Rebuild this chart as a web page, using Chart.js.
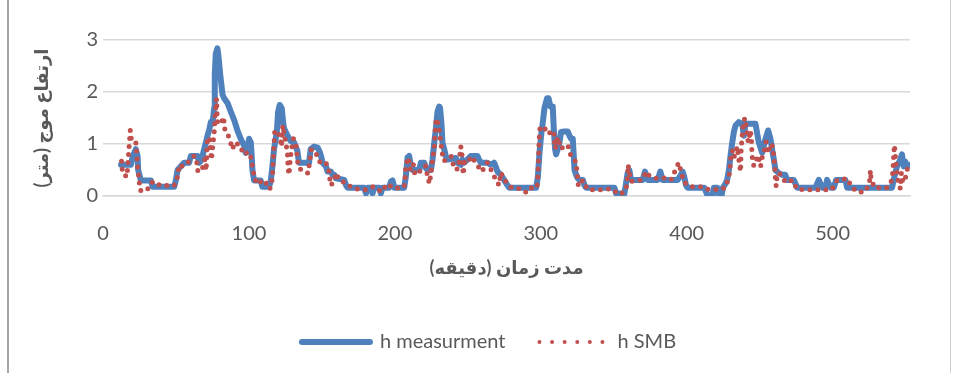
<!DOCTYPE html>
<html>
<head>
<meta charset="utf-8">
<script src="https://cdn.jsdelivr.net/npm/chart.js@4.4.1/dist/chart.umd.min.js"></script>
<style>
  html, body { margin: 0; padding: 0; background: #fff; }
  #wrap { position: relative; width: 957px; height: 373px; }
  #frame { position: absolute; left: 7px; top: -2px; width: 941px; height: 380px;
           border-left: 2px solid #a6a6a6; border-right: 1px solid #d0d0d0; }
  canvas { position: absolute; left: 0; top: 0; }
</style>
</head>
<body>
<div id="wrap">
  <div id="frame"></div>
  <canvas id="waveChart" width="957" height="373"></canvas>
</div>
<script>
// h measurment (minutes, metres)
var measX = [12.3, 19.1, 20.3, 22.5, 23.7, 24.1, 26, 32.8, 34, 48.8, 49.9, 51.1, 53.3, 55.6, 59, 60.2, 64.8, 65.9, 67, 68.2,
  69.3, 70.5, 71.6, 72.7, 73.9, 75, 76.2, 76.6, 77.3, 78.4, 79.1, 80.3, 81.9, 83, 85.3, 87.6, 89.9, 92.1, 94.4, 96.7,
  97.8, 99, 100.1, 101.3, 101.9, 102.4, 103.5, 108.1, 109.2, 113.8, 115, 116.1, 117.2, 119.1, 120, 121.1, 122.5, 123.4, 124.1, 126.4,
  128.6, 130.9, 133.2, 134.3, 141.2, 142.3, 144.6, 147.1, 148.2, 149.4, 150.5, 152.8, 153.9, 156.2, 157.3, 158.5, 159.6, 165.3, 166.5, 167.6,
  179, 180.2, 181.3, 183.6, 184.7, 185.9, 189.3, 190.4, 191.6, 196.1, 197.3, 198.4, 199.6, 206.4, 207.5, 208.7, 209.8, 211, 212.1, 216.7,
  217.8, 220.1, 221.2, 222.4, 224.7, 225.8, 227, 228.1, 229.2, 230.4, 231, 232, 232.6, 233.8, 234.9, 236.1, 241.8, 242.9, 245.2, 246.3,
  247.5, 249.7, 252, 256.6, 257.7, 258.9, 263.4, 265.7, 268, 269.1, 270.3, 272.6, 274.8, 277.1, 278.3, 296.8, 298, 299.1, 300.2, 301.4,
  302.5, 304.3, 305.3, 306.6, 308.2, 308.9, 309.8, 310.5, 311.6, 312.8, 313.9, 316.2, 318.5, 319.6, 320.8, 321.9, 322.6, 323.1, 324.2, 325.3,
  326.5, 328.8, 329.9, 331, 350.4, 351.6, 357.3, 358.4, 359.5, 360.7, 361.8, 369.8, 371.4, 373.2, 380.1, 381.9, 383.5, 393.8, 396.1, 397.2,
  398.3, 399.5, 400.6, 412, 414.3, 417.5, 418.6, 420.9, 422, 423.9, 424.8, 426.6, 427.7, 428.9, 430, 431.2, 432.3, 433.5, 435.7, 438,
  439.2, 440.3, 447.1, 449.4, 451.7, 454, 455.8, 457.4, 458.5, 459.7, 460.8, 463.1, 465.4, 467.5, 468.8, 473.4, 475.7, 488.2, 490.5, 492.8,
  495.1, 496.2, 498.5, 500.8, 502.4, 508.7, 509.9, 540.7, 541.8, 544.1, 546.4, 547.5, 548.7, 549.8, 551, 553];
var measY = [0.6, 0.6, 0.75, 0.9, 0.77, 0.5, 0.3, 0.3, 0.18, 0.18, 0.3, 0.5, 0.57, 0.64, 0.64, 0.77, 0.77, 0.64, 0.67, 0.77,
  0.9, 1.03, 1.16, 1.26, 1.42, 1.39, 1.69, 2.34, 2.74, 2.84, 2.7, 2.34, 1.95, 1.88, 1.79, 1.62, 1.46, 1.26, 1.1, 0.97,
  0.83, 0.9, 1.1, 1.03, 0.77, 0.5, 0.3, 0.3, 0.18, 0.18, 0.3, 0.57, 0.9, 1.23, 1.62, 1.75, 1.69, 1.42, 1.3, 1.16,
  1.06, 1.03, 0.87, 0.64, 0.64, 0.9, 0.95, 0.93, 0.87, 0.77, 0.64, 0.57, 0.47, 0.47, 0.41, 0.41, 0.34, 0.31, 0.21, 0.16,
  0.16, 0.05, 0.16, 0.16, 0.05, 0.16, 0.16, 0.05, 0.16, 0.16, 0.28, 0.3, 0.16, 0.16, 0.37, 0.74, 0.77, 0.57, 0.5, 0.5,
  0.64, 0.64, 0.54, 0.5, 0.5, 0.7, 1.03, 1.29, 1.62, 1.72, 1.69, 1.36, 1.03, 0.9, 0.77, 0.7, 0.73, 0.64, 0.6, 0.7,
  0.64, 0.7, 0.77, 0.77, 0.7, 0.64, 0.64, 0.6, 0.64, 0.57, 0.47, 0.41, 0.31, 0.21, 0.16, 0.16, 0.37, 0.83, 1.16, 1.42,
  1.69, 1.88, 1.88, 1.72, 1.72, 1.29, 0.9, 0.8, 0.9, 1.03, 1.23, 1.24, 1.24, 1.16, 1.1, 1.1, 0.77, 0.5, 0.41, 0.34,
  0.31, 0.31, 0.21, 0.16, 0.16, 0.05, 0.05, 0.24, 0.44, 0.5, 0.31, 0.31, 0.47, 0.31, 0.31, 0.47, 0.31, 0.31, 0.41, 0.47,
  0.37, 0.21, 0.16, 0.16, 0.01, 0.01, 0.16, 0.16, 0.01, 0.01, 0.16, 0.24, 0.31, 0.5, 0.77, 1.03, 1.23, 1.36, 1.42, 1.39,
  1.16, 1.39, 1.39, 1.03, 0.83, 1.1, 1.26, 1.1, 0.9, 0.7, 0.5, 0.44, 0.41, 0.41, 0.31, 0.31, 0.16, 0.16, 0.31, 0.16,
  0.16, 0.31, 0.16, 0.16, 0.31, 0.31, 0.16, 0.16, 0.31, 0.57, 0.7, 0.8, 0.57, 0.66, 0.57, 0.6];

// h SMB
var smbX = [12.7, 13.4, 16.4, 17.5, 18.7, 19.6, 21, 22.5, 23.7, 24.6, 25.5, 28.3, 31.7, 34, 39.7, 48.8, 51.1, 52.2, 54.5, 56.8,
  58.4, 62.5, 64.1, 64.8, 67.5, 69.8, 70.7, 71.6, 73, 74.3, 75.3, 76.2, 77.1, 77.8, 78.4, 79.8, 81.2, 82.6, 83.5, 86.4,
  88.7, 90.3, 92.1, 94, 96.2, 98.5, 100.8, 102.4, 103.5, 105.4, 110.4, 114.3, 116.1, 116.8, 117.7, 119.5, 121.1, 122.3, 123.2, 124.1,
  125.2, 126.4, 126.8, 127.5, 128.2, 129.1, 130.5, 132.1, 133.7, 135.5, 137.8, 140.5, 142.8, 146.3, 148.9, 151.2, 153.9, 155.1, 155.8, 158,
  159.6, 161.9, 166.5, 171.7, 179.7, 185.2, 191.1, 194.5, 200, 206.4, 207.1, 207.5, 209.4, 210.5, 212.6, 213.7, 219, 221.2, 222.4, 223.7,
  225.1, 225.8, 227, 227.6, 228.3, 229.7, 230.8, 231.5, 232.6, 233.8, 236.1, 238.8, 240.6, 243.4, 245.2, 245.9, 246.8, 247.9, 249.8, 252.5,
  259.6, 263.4, 266.9, 269.1, 271.4, 272.6, 275.3, 279.9, 286.5, 290.4, 294.5, 297.5, 298, 298.4, 298.6, 298.9, 299.5, 302.5, 305.3, 307.5,
  308.9, 309.4, 310, 311.6, 313.5, 318.5, 320.3, 324.2, 324.9, 325.8, 328.8, 332.2, 340.2, 348.1, 352.3, 354.5, 358.4, 359.5, 359.8, 361.8,
  369.1, 372.3, 373.2, 378.3, 382.4, 389.2, 394.5, 396.1, 398.3, 402.9, 410.9, 414.3, 422, 426.6, 427.7, 429.6, 430, 431.2, 432.3, 433.5,
  434.6, 435.7, 436.9, 437.3, 438, 438.7, 439.8, 441, 442.1, 443.7, 444.4, 444.7, 445.3, 446, 449, 450.6, 451.7, 453.5, 454.4, 455.8,
  457.4, 458.5, 459.7, 460.4, 460.8, 461.3, 462, 463.6, 464.9, 467.7, 472.2, 475.7, 483.2, 491.6, 499.2, 503, 509.9, 513.3, 517.9, 522.4,
  525.2, 525.9, 526.3, 528.6, 537.3, 540.7, 541.4, 541.8, 542.3, 544.1, 545.2, 546.4, 547.1, 548, 549.8, 551.5];
var smbY = [0.67, 0.44, 0.37, 0.8, 1.26, 1.06, 1.03, 1.03, 0.57, 0.34, 0.11, 0.09, 0.16, 0.28, 0.2, 0.2, 0.37, 0.6, 0.57, 0.6,
  0.65, 0.77, 0.7, 0.49, 0.47, 0.7, 0.49, 1.13, 1.1, 0.7, 0.98, 1.23, 1.65, 1.87, 1.42, 1.46, 1.42, 1.52, 1.28, 1.13,
  0.9, 1.03, 1, 0.97, 0.8, 0.83, 0.83, 0.57, 0.39, 0.23, 0.31, 0.13, 0.34, 0.77, 1.26, 1.23, 1.16, 0.95, 1.36, 1.2,
  1.03, 0.83, 0.54, 0.41, 0.67, 0.89, 1.1, 1.03, 0.58, 0.51, 0.47, 0.44, 0.9, 0.8, 0.64, 0.66, 0.6, 0.44, 0.21, 0.26,
  0.44, 0.31, 0.24, 0.14, 0.12, 0.18, 0.08, 0.23, 0.14, 0.18, 0.37, 0.6, 0.74, 0.51, 0.62, 0.41, 0.51, 0.58, 0.37, 0.24,
  0.51, 0.7, 0.9, 1.26, 1.49, 1.39, 1.16, 1.03, 0.8, 0.67, 0.74, 0.76, 0.52, 0.52, 0.95, 0.83, 0.41, 0.67, 0.65, 0.76,
  0.47, 0.64, 0.45, 0.32, 0.21, 0.45, 0.3, 0.16, 0.14, 0.06, 0.18, 0.18, 0.41, 0.64, 0.87, 1.1, 1.33, 1.31, 1.19, 1.26,
  1.24, 1.03, 0.91, 1.13, 0.91, 0.98, 0.8, 0.65, 0.43, 0.19, 0.3, 0.12, 0.12, 0.14, 0.06, 0.03, 0.12, 0.37, 0.6, 0.28,
  0.31, 0.47, 0.41, 0.34, 0.36, 0.31, 0.64, 0.47, 0.26, 0.18, 0.18, 0.13, 0.12, 0.16, 0.26, 0.47, 0.7, 0.87, 0.74, 0.83,
  0.95, 0.7, 0.47, 0.9, 1.16, 1.39, 1.5, 1.28, 1.04, 1.26, 1.04, 0.82, 0.65, 0.58, 0.78, 0.57, 0.74, 0.91, 1.04, 0.82,
  1, 0.98, 0.77, 0.54, 0.31, 0.19, 0.43, 0.43, 0.39, 0.26, 0.3, 0.13, 0.12, 0.12, 0.12, 0.3, 0.34, 0.16, 0.07, 0.09,
  0.26, 0.49, 0.34, 0.16, 0.16, 0.31, 0.54, 0.76, 0.98, 0.43, 0.24, 0.14, 0.44, 0.26, 0.34, 0.56];

var xTicks = [0, 100, 200, 300, 400, 500];
var yTicks = [0, 1, 2, 3];
var seriesNames = ['h measurment', 'h SMB'];
var xTitle = 'مدت زمان (دقیقه)';
var yTitle = 'ارتفاع موج (متر)';

function toPoints(xs, ys) {
  var pts = [];
  for (var i = 0; i < xs.length; i++) pts.push({ x: xs[i], y: ys[i] });
  return pts;
}

var textColor = '#595959';
var fontFam = 'Lato, "DejaVu Sans", sans-serif';

// nudge legend so it sits where the original put it
var legendShift = {
  id: 'legendShift',
  afterLayout: function (chart) {
    chart.legend.left += 30;
    chart.legend.right += 30;
    chart.legend.top -= 3;
    chart.legend.bottom -= 3;
  }
};

var ctx = document.getElementById('waveChart').getContext('2d');
var waveChart = new Chart(ctx, {
  type: 'line',
  data: {
    datasets: [{
      label: seriesNames[0],
      data: toPoints(measX, measY),
      borderColor: '#4f81bd',
      borderWidth: 6,
      borderCapStyle: 'round',
      borderJoinStyle: 'round',
      pointRadius: 0,
      tension: 0,
      order: 2
    }, {
      label: seriesNames[1],
      data: toPoints(smbX, smbY),
      borderColor: '#c0504d',
      borderWidth: 5,
      borderDash: [0, 8],
      borderCapStyle: 'round',
      borderJoinStyle: 'round',
      pointRadius: 0,
      tension: 0,
      order: 1
    }]
  },
  options: {
    responsive: false,
    animation: false,
    layout: { padding: { left: 8, right: 47, top: 40, bottom: 8 } },
    plugins: {
      tooltip: { enabled: false },
      legend: {
        position: 'bottom',
        labels: {
          usePointStyle: true,
          pointStyleWidth: 68,
          padding: 34,
          font: { family: fontFam, size: 20 },
          color: textColor,
          generateLabels: function (chart) {
            return chart.data.datasets.map(function (ds, i) {
              return {
                text: ds.label,
                datasetIndex: i,
                pointStyle: 'line',
                strokeStyle: ds.borderColor,
                fillStyle: ds.borderColor,
                lineWidth: i === 0 ? 6 : 4,
                lineDash: i === 0 ? [] : [0, 12.6],
                lineCap: 'round',
                fontColor: textColor,
                hidden: false
              };
            });
          }
        }
      }
    },
    scales: {
      x: {
        type: 'linear',
        min: 0,
        max: 553,
        afterFit: function (scale) { scale.height = 105; },
        afterBuildTicks: function (scale) {
          scale.ticks = xTicks.map(function (v) { return { value: v }; });
        },
        ticks: { color: textColor, padding: 18, font: { family: fontFam, size: 20 }, maxRotation: 0 },
        grid: { display: false },
        border: { display: true, color: '#d9d9d9', width: 1.5 },
        title: {
          display: true,
          text: xTitle,
          color: textColor,
          font: { family: fontFam, size: 18, weight: 'bold' },
          padding: { top: 0, bottom: 22 }
        }
      },
      y: {
        min: 0,
        max: 3,
        afterFit: function (scale) { scale.width = 95; },
        afterBuildTicks: function (scale) {
          scale.ticks = yTicks.map(function (v) { return { value: v }; });
        },
        ticks: { color: textColor, padding: 5, font: { family: fontFam, size: 20 } },
        grid: { color: '#d9d9d9', lineWidth: 1.5, drawTicks: false },
        border: { display: false },
        title: {
          display: true,
          text: yTitle,
          color: textColor,
          font: { family: fontFam, size: 18, weight: 'bold' },
          padding: { top: 23, bottom: 0 }
        }
      }
    }
  },
  plugins: [legendShift]
});
</script>
</body>
</html>
